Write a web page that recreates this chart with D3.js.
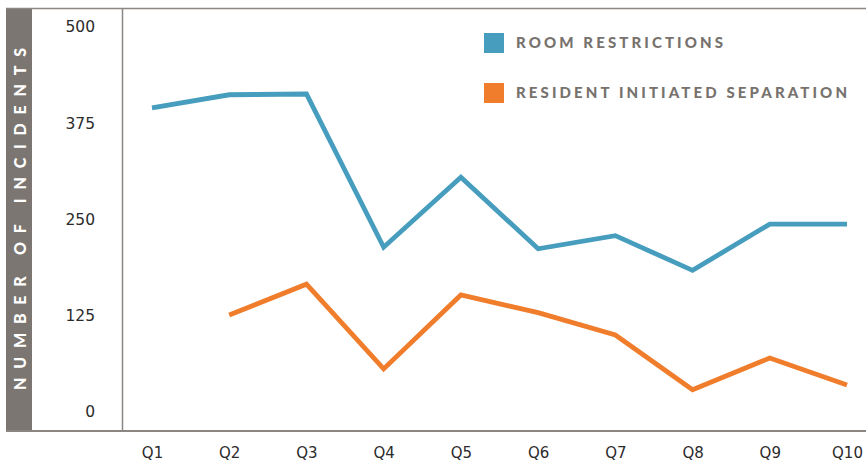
<!DOCTYPE html>
<html>
<head>
<meta charset="utf-8">
<script src="https://cdn.jsdelivr.net/npm/d3@7"></script>
<style>
  body { margin: 0; background: #fff; }
  svg { display: block; }
</style>
</head>
<body>
<div id="chartDiv"></div>
<script>
// Incidents per quarter

var quarters = ['Q1', 'Q2', 'Q3', 'Q4', 'Q5', 'Q6', 'Q7', 'Q8', 'Q9', 'Q10'];
var roomRestrictions = [395, 412, 413, 214, 305, 212, 229, 184, 244, 244];
var residentSeparation = [null, 126, 166, 56, 152, 129, 100, 29, 70, 35];
var yTicks = [0, 125, 250, 375, 500];
var seriesNames = ['ROOM RESTRICTIONS', 'RESIDENT INITIATED SEPARATION'];
var seriesColors = ['#469dbd', '#f07d2c'];

var chartWidth = 866;
var chartHeight = 461;
var frameColor = '#8b8682';

var svg = d3.select('#chartDiv')
            .append('svg')
            .attr('width', chartWidth)
            .attr('height', chartHeight);

var x = d3.scalePoint().domain(quarters).range([152, 847]);
var y = d3.scaleLinear().domain([0, 500]).range([412, 27]);

// grey title bar on the left
svg.append('rect')
   .attr('x', 6)
   .attr('y', 8)
   .attr('width', 26)
   .attr('height', 423)
   .attr('fill', '#7b7671');

svg.append('text')
   .attr('transform', 'translate(25.5,219) rotate(-90)')
   .attr('text-anchor', 'middle')
   .attr('textLength', 342)
   .attr('lengthAdjust', 'spacing')
   .style('font-family', 'Lato, sans-serif')
   .style('font-weight', '900')
   .style('font-size', '16px')
   .attr('fill', '#fff')
   .text('NUMBER OF INCIDENTS');

// frame lines
svg.append('line')
   .attr('x1', 6).attr('x2', chartWidth)
   .attr('y1', 8.5).attr('y2', 8.5)
   .attr('stroke', frameColor).attr('stroke-width', 1.5);
svg.append('line')
   .attr('x1', 6).attr('x2', chartWidth)
   .attr('y1', 431).attr('y2', 431)
   .attr('stroke', frameColor).attr('stroke-width', 1.8);
svg.append('line')
   .attr('x1', 122.5).attr('x2', 122.5)
   .attr('y1', 8).attr('y2', 431)
   .attr('stroke', frameColor).attr('stroke-width', 1.5);

// y axis labels
var yAxis = d3.axisLeft(y).tickValues(yTicks).tickSize(0).tickPadding(0);
var yG = svg.append('g').attr('transform', 'translate(95,0)').call(yAxis);
yG.select('.domain').remove();
yG.selectAll('text')
  .style('font-family', 'DejaVu Sans, sans-serif')
  .style('font-size', '15.5px')
  .attr('fill', '#2b2b2b');

// x axis labels
var xAxis = d3.axisBottom(x).tickSize(0).tickPadding(0);
var xG = svg.append('g').attr('transform', 'translate(0,447)').call(xAxis);
xG.select('.domain').remove();
xG.selectAll('text')
  .style('font-family', 'DejaVu Sans, sans-serif')
  .style('font-size', '15px')
  .attr('fill', '#2b2b2b');

// lines
var line = d3.line()
             .defined(function(d) { return d != null; })
             .x(function(d, i) { return x(quarters[i]); })
             .y(function(d) { return y(d); });

[roomRestrictions, residentSeparation].forEach(function(values, s) {
  svg.append('path')
     .datum(values)
     .attr('d', line)
     .attr('fill', 'none')
     .attr('stroke', seriesColors[s])
     .attr('stroke-width', 4.8)
     .attr('stroke-linejoin', 'miter');
});

// legend
var legendWidths = [207, 331];
seriesNames.forEach(function(name, i) {
  var ly = 33 + i * 50;
  svg.append('rect')
     .attr('x', 484)
     .attr('y', ly)
     .attr('width', 20)
     .attr('height', 20)
     .attr('fill', seriesColors[i]);
  svg.append('text')
     .attr('x', 516)
     .attr('y', ly + 14.5)
     .attr('textLength', legendWidths[i])
     .attr('lengthAdjust', 'spacing')
     .style('font-family', 'Lato, sans-serif')
     .style('font-weight', '900')
     .style('font-size', '15px')
     .attr('fill', '#77726d')
     .text(name);
});
</script>
</body>
</html>
